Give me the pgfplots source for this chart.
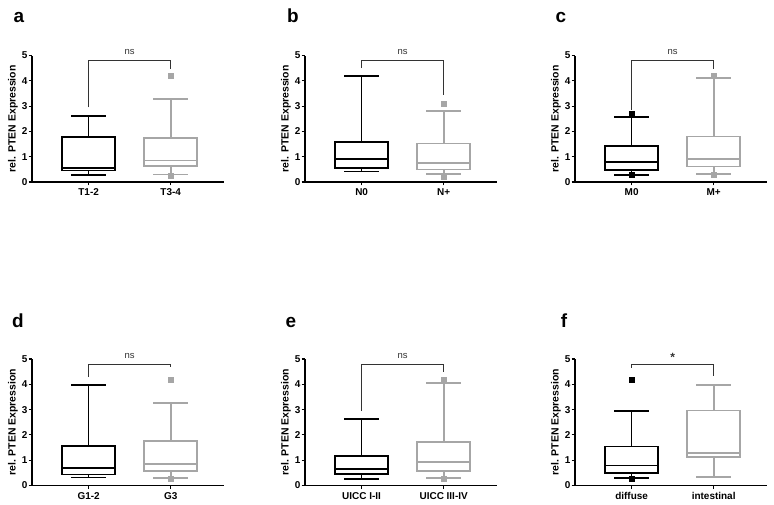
\documentclass[border=0pt]{standalone}
\usepackage{fontspec}
\setmainfont{Liberation Sans}
\usepackage{pgfplots}
\pgfplotsset{compat=1.18}
\usepgfplotslibrary{statistics}

\definecolor{boxgrey}{HTML}{A6A6A6}
\definecolor{brk}{HTML}{333333}

\tikzset{
  sig/.style={font=\fontsize{9.5}{10}\selectfont, text=brk},
  letter/.style={font=\fontsize{19}{20}\selectfont\bfseries, anchor=base},
}

\pgfplotsset{
  pten/.style={
    scale only axis, width=192bp, height=126.5bp,
    xmin=0.31, xmax=2.65, ymin=0, ymax=5,
    axis x line*=bottom, axis y line*=left,
    axis line style={line width=1.2bp, black},
    xtick={1,2}, ytick={0,1,2,3,4,5},
    tick align=outside, major tick length=3.5bp,
    tick style={line width=1.1bp, black},
    tick label style={font=\fontsize{10}{11}\selectfont\bfseries},
    yticklabel style={inner xsep=0.8bp},
    /pgf/number format/assume math mode=true,
    ylabel={rel. PTEN Expression},
    ylabel style={font=\fontsize{10.5}{11}\selectfont\bfseries,
      at={(axis description cs:-0.1,0.5)}, anchor=center},
    clip=false,
    boxplot/draw direction=y,
    boxplot/box extend=0.65,
    boxplot/whisker extend=0.42,
    boxplot/every box/.style={line width=1.7bp},
    boxplot/every whisker/.style={line width=1.7bp},
    boxplot/every median/.style={line width=1.7bp},
  },
  blk/.style={black, solid, mark=square*, mark size=2.5bp,
    mark options={solid, fill=black, line width=0.4bp}},
  gry/.style={boxgrey, solid, mark=square*, mark size=2.5bp,
    mark options={solid, fill=boxgrey, line width=0.4bp}},
  brkt/.style={brk, line width=1.1bp, mark=none},
}

\begin{document}
\begin{tikzpicture}
\path[use as bounding box] (0,0) rectangle (774bp,505bp);

% panel letters
\node[letter] at (19bp,482bp) {a};
\node[letter] at (293bp,482bp) {b};
\node[letter] at (561bp,482bp) {c};
\node[letter] at (18bp,177bp) {d};
\node[letter] at (291bp,177bp) {e};
\node[letter] at (564bp,177bp) {f};

% a
\begin{axis}[pten, at={(32bp,323bp)}, anchor=south west, xticklabels={T1-2,T3-4}]
  \addplot[blk, boxplot prepared={draw position=1, lower whisker=0.29, lower quartile=0.46,
    median=0.55, upper quartile=1.79, upper whisker=2.62}] coordinates {};
  \addplot[gry, boxplot prepared={draw position=2, lower whisker=0.30, lower quartile=0.63,
    median=0.85, upper quartile=1.73, upper whisker=3.27}] coordinates {(0,4.19) (0,0.23)};
  \addplot[brkt] coordinates {(1,2.95) (1,4.79) (2,4.79) (2,4.48)};
  \node[sig] at (axis cs:1.5,5.13) {ns};
\end{axis}

% b
\begin{axis}[pten, at={(305bp,323bp)}, anchor=south west, xticklabels={N0,N+}]
  \addplot[blk, boxplot prepared={draw position=1, lower whisker=0.42, lower quartile=0.56,
    median=0.91, upper quartile=1.57, upper whisker=4.18}] coordinates {};
  \addplot[gry, boxplot prepared={draw position=2, lower whisker=0.31, lower quartile=0.49,
    median=0.75, upper quartile=1.52, upper whisker=2.80}] coordinates {(0,3.10) (0,0.22)};
  \addplot[brkt] coordinates {(1,4.50) (1,4.79) (2,4.79) (2,3.45)};
  \node[sig] at (axis cs:1.5,5.13) {ns};
\end{axis}

% c
\begin{axis}[pten, at={(575bp,323bp)}, anchor=south west, xticklabels={M0,M+}]
  \addplot[blk, boxplot prepared={draw position=1, lower whisker=0.29, lower quartile=0.47,
    median=0.78, upper quartile=1.41, upper whisker=2.58}] coordinates {(0,2.68) (0,0.27)};
  \addplot[gry, boxplot prepared={draw position=2, lower whisker=0.31, lower quartile=0.61,
    median=0.91, upper quartile=1.80, upper whisker=4.10}] coordinates {(0,4.21) (0,0.28)};
  \addplot[brkt] coordinates {(1,2.85) (1,4.79) (2,4.79) (2,4.48)};
  \node[sig] at (axis cs:1.5,5.13) {ns};
\end{axis}

% d
\begin{axis}[pten, at={(32bp,19.5bp)}, anchor=south west, xticklabels={G1-2,G3}]
  \addplot[blk, boxplot prepared={draw position=1, lower whisker=0.32, lower quartile=0.43,
    median=0.68, upper quartile=1.56, upper whisker=3.98}] coordinates {};
  \addplot[gry, boxplot prepared={draw position=2, lower whisker=0.30, lower quartile=0.56,
    median=0.85, upper quartile=1.75, upper whisker=3.27}] coordinates {(0,4.20) (0,0.27)};
  \addplot[brkt] coordinates {(1,4.28) (1,4.77) (2,4.77) (2,4.68)};
  \node[sig] at (axis cs:1.5,5.13) {ns};
\end{axis}

% e
\begin{axis}[pten, at={(305bp,19.5bp)}, anchor=south west, xticklabels={UICC I-II,UICC III-IV}]
  \addplot[blk, boxplot prepared={draw position=1, lower whisker=0.26, lower quartile=0.46,
    median=0.66, upper quartile=1.16, upper whisker=2.64}] coordinates {};
  \addplot[gry, boxplot prepared={draw position=2, lower whisker=0.29, lower quartile=0.58,
    median=0.92, upper quartile=1.73, upper whisker=4.05}] coordinates {(0,4.18) (0,0.27)};
  \addplot[brkt] coordinates {(1,2.94) (1,4.78) (2,4.78) (2,4.47)};
  \node[sig] at (axis cs:1.5,5.13) {ns};
\end{axis}

% f
\begin{axis}[pten, at={(575bp,19.5bp)}, anchor=south west, xticklabels={diffuse,intestinal}]
  \addplot[blk, boxplot prepared={draw position=1, lower whisker=0.30, lower quartile=0.50,
    median=0.79, upper quartile=1.54, upper whisker=2.94}] coordinates {(0,4.19) (0,0.27)};
  \addplot[gry, boxplot prepared={draw position=2, lower whisker=0.33, lower quartile=1.14,
    median=1.28, upper quartile=2.97, upper whisker=3.98}] coordinates {};
  \addplot[brkt] coordinates {(1,4.65) (1,4.79) (2,4.79) (2,4.32)};
  \node[sig, font=\fontsize{12}{12}\selectfont\bfseries] at (axis cs:1.5,5.07) {*};
\end{axis}
\end{tikzpicture}
\end{document}
